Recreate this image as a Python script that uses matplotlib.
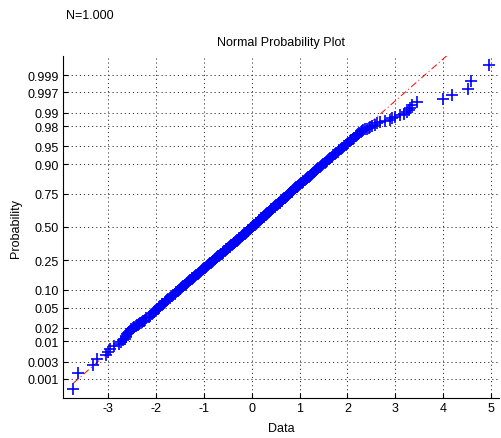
import matplotlib
matplotlib.use('Agg')
import matplotlib.pyplot as plt
import numpy as np
from statistics import NormalDist

plt.rcParams['font.family'] = ['Liberation Sans', 'DejaVu Sans']

# sample size and the sorted sample values (rank -> value)
n_total = 1000

# lower tail
ranks_low = [1, 2, 3, 4, 5, 6, 7, 8, 9, 10, 11, 12, 13, 14, 15, 16, 17, 18, 19,
             20, 21, 22, 23, 24, 25, 26, 27, 28, 29, 30, 32, 34, 36, 38, 40, 42,
             44, 46, 48, 50, 52, 54, 56, 58, 60, 63, 66, 69, 72, 76]
values_low = [-3.73, -3.63, -3.31, -3.23, -3.05, -3.00, -2.96, -2.89, -2.78,
              -2.74, -2.69, -2.66, -2.64, -2.62, -2.60, -2.58, -2.57, -2.55,
              -2.52, -2.49, -2.46, -2.42, -2.40, -2.38, -2.36, -2.34, -2.30,
              -2.27, -2.25, -2.23, -2.21, -2.15, -2.13, -2.09, -2.07, -2.05,
              -2.03, -2.00, -1.96, -1.95, -1.94, -1.91, -1.88, -1.87, -1.86,
              -1.82, -1.79, -1.77, -1.75, -1.70]

# middle band
ranks_mid = [80, 84, 88, 92, 96, 100, 104, 108, 112, 116, 120, 124, 128, 132,
             136, 140, 144, 148, 152, 156,
             160, 165, 170, 175, 180, 185, 190, 195, 200, 205, 210, 215, 220,
             225, 230, 235, 240, 245, 250, 255, 260, 265, 270, 275, 280, 285,
             290, 295, 300, 305, 310, 315, 320, 325, 330, 335, 340, 345, 350,
             355, 360, 365, 370, 375, 380, 385, 390, 395, 400, 405, 410, 415,
             420, 425, 430, 435, 440, 445, 450, 455, 460, 465, 470, 475, 480,
             485, 490, 495, 500, 505, 510, 515, 520, 525, 530, 535, 540, 545,
             550, 555, 560, 565, 570, 575, 580, 585, 590, 595, 600, 605, 610,
             615, 620, 625, 630, 635, 640, 645, 650, 655, 660, 665, 670, 675,
             680, 685, 690, 695, 700, 705, 710, 715, 720, 725, 730, 735, 740,
             745, 750, 755, 760, 765, 770, 775, 780, 785, 790, 795, 800, 805,
             810, 815, 820, 825, 830, 835, 840]
values_mid = [-1.67, -1.64, -1.61, -1.58, -1.55, -1.53, -1.51, -1.48, -1.45,
              -1.43, -1.40, -1.37, -1.35, -1.33, -1.31, -1.29, -1.26, -1.24,
              -1.22, -1.20,
              -1.18, -1.16, -1.13, -1.11, -1.09, -1.06, -1.04, -1.02, -0.99,
              -0.97, -0.95, -0.94, -0.92, -0.90, -0.88, -0.86, -0.84, -0.82,
              -0.80, -0.78, -0.76, -0.74, -0.72, -0.71, -0.69, -0.67, -0.65,
              -0.63, -0.61, -0.60, -0.58, -0.56, -0.55, -0.53, -0.51, -0.50,
              -0.48, -0.46, -0.45, -0.43, -0.41, -0.40, -0.38, -0.37, -0.35,
              -0.34, -0.32, -0.30, -0.29, -0.27, -0.26, -0.24, -0.23, -0.21,
              -0.20, -0.18, -0.17, -0.15, -0.14, -0.12, -0.11, -0.09, -0.08,
              -0.07, -0.05, -0.04, -0.02, -0.01, 0.01, 0.02, 0.03, 0.05, 0.06,
              0.08, 0.09, 0.10, 0.12, 0.13, 0.15, 0.16, 0.18, 0.19, 0.20, 0.22,
              0.23, 0.25, 0.26, 0.28, 0.29, 0.31, 0.32, 0.34, 0.35, 0.37, 0.38,
              0.40, 0.41, 0.43, 0.45, 0.46, 0.48, 0.49, 0.51, 0.53, 0.54, 0.56,
              0.58, 0.59, 0.61, 0.63, 0.64, 0.66, 0.68, 0.70, 0.71, 0.73, 0.75,
              0.76, 0.78, 0.80, 0.81, 0.83, 0.85, 0.87, 0.89, 0.91, 0.93, 0.95,
              0.97, 0.99, 1.01, 1.04, 1.06, 1.08, 1.11, 1.13, 1.16]

# upper tail
ranks_high = [844, 848, 852, 856, 860, 864, 868, 872, 876, 880, 884, 888, 892,
              896, 900, 904, 908, 912, 916, 920, 924, 928, 932, 935, 938, 941,
              944, 947, 950, 953, 955, 957, 960, 962, 964, 966, 968, 970, 971,
              972, 974, 975, 976, 977, 978, 979, 980, 981, 982, 983, 984, 985,
              986, 987, 988, 989, 990, 991, 992, 993, 994, 995, 996, 997, 998,
              999, 1000]
values_high = [1.18, 1.19, 1.21, 1.23, 1.25, 1.28, 1.30, 1.32, 1.34, 1.37,
               1.39, 1.42, 1.44, 1.47, 1.49, 1.52, 1.55, 1.58, 1.61, 1.64,
               1.67, 1.70, 1.74, 1.77, 1.80, 1.83, 1.86, 1.89, 1.93, 1.96,
               1.99, 2.01, 2.05, 2.08, 2.11, 2.14, 2.17, 2.20, 2.22, 2.24,
               2.28, 2.30, 2.33, 2.37, 2.40, 2.44, 2.48, 2.52, 2.57, 2.61,
               2.68, 2.78, 2.88, 2.94, 2.99, 3.10, 3.19, 3.24, 3.28, 3.31,
               3.35, 3.46, 4.00, 4.19, 4.51, 4.58, 4.95]

prob_ticks = [0.001, 0.003, 0.01, 0.02, 0.05, 0.10, 0.25, 0.50,
              0.75, 0.90, 0.95, 0.98, 0.99, 0.997, 0.999]
prob_labels = ['0.001', '0.003', '0.01', '0.02', '0.05', '0.10', '0.25', '0.50',
               '0.75', '0.90', '0.95', '0.98', '0.99', '0.997', '0.999']
x_ticks = [-3, -2, -1, 0, 1, 2, 3, 4, 5]

ranks = ranks_low + ranks_mid + ranks_high
values = values_low + values_mid + values_high
assert len(ranks) == len(values)

nd = NormalDist()
x = np.array(values)
y = np.array([nd.inv_cdf((r - 0.5) / n_total) for r in ranks])

# reference line through the quartiles, extended to min/max of the data
q1x = np.interp(0.25 * n_total + 0.5, ranks, values)
q3x = np.interp(0.75 * n_total + 0.5, ranks, values)
q1y, q3y = nd.inv_cdf(0.25), nd.inv_cdf(0.75)
slope = (q3y - q1y) / (q3x - q1x)
cx, cy = (q1x + q3x) / 2, (q1y + q3y) / 2
minx, maxx = x.min(), x.max()
mx = [minx, maxx]
my = [cy - slope * (cx - minx), cy + slope * (maxx - cx)]

fig = plt.figure(figsize=(5.02, 4.39), dpi=100)
ax = fig.add_axes([63 / 502, 40 / 439, 436 / 502, 342 / 439])

ax.plot(mx, my, color='red', linestyle=(0, (7, 3, 1, 3)), linewidth=0.7)
ax.plot([q1x, q3x], [q1y, q3y], color='red', linewidth=0.7)
ax.plot(x, y, '+', color='blue', markersize=8, markeredgewidth=1.2)

rng = maxx - minx
ax.set_xlim(minx - 0.025 * rng, maxx + 0.025 * rng)
ylo = nd.inv_cdf(0.25 / n_total)
ax.set_ylim(ylo, -ylo)

ax.set_yticks([nd.inv_cdf(p) for p in prob_ticks])
ax.set_yticklabels(prob_labels)
ax.set_xticks(x_ticks)
ax.set_xticklabels([str(t) for t in x_ticks])

ax.spines['top'].set_visible(False)
ax.spines['right'].set_visible(False)
ax.spines['left'].set_linewidth(0.8)
ax.spines['bottom'].set_linewidth(0.8)
ax.tick_params(direction='in', length=3.5, width=0.8, labelsize=9, pad=3)

ax.grid(True, color='#333333', linestyle=(0, (1.2, 3)), linewidth=0.7)
ax.set_axisbelow(True)

ax.set_title('Normal Probability Plot', fontsize=9, pad=8)
ax.set_xlabel('Data', fontsize=9, labelpad=6)
ax.set_ylabel('Probability', fontsize=9, labelpad=4)

fig.text(66 / 502, 1 - 16 / 439, 'N=1.000', fontsize=9, va='center', ha='left')

fig.savefig('out.png', dpi=100, facecolor='white')
